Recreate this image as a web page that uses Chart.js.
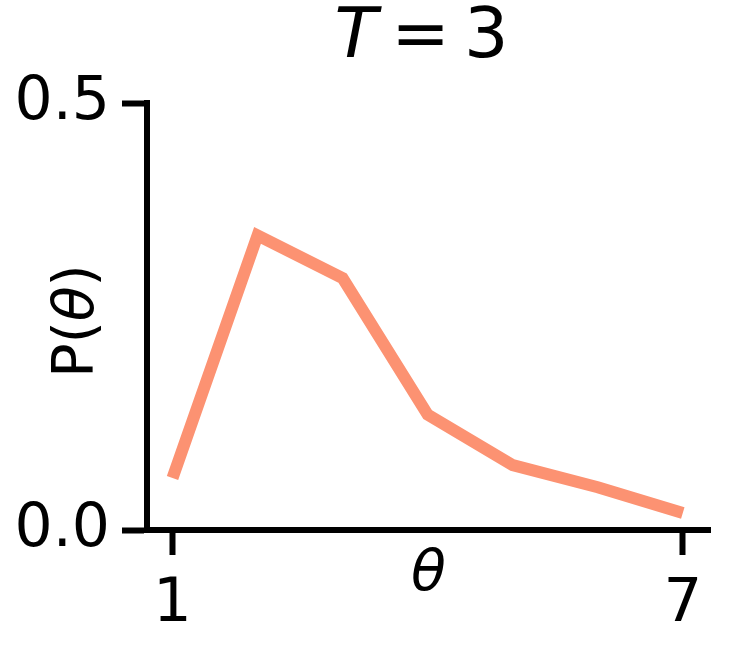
<!DOCTYPE html>
<html>
<head>
<meta charset="utf-8">
<script src="https://cdn.jsdelivr.net/npm/chart.js@4"></script>
<style>
  body { margin: 0; background: #fff; }
  #wrap { width: 746px; height: 649px; }
</style>
</head>
<body>
<div id="wrap"><canvas id="myChart"></canvas></div>
<script>
// data
var thetas = [1, 2, 3, 4, 5, 6, 7];
var probs = [0.061, 0.345, 0.295, 0.135, 0.076, 0.050, 0.020];
var xTicks = [1, 7];
var yTicks = [0.0, 0.5];
var titleParts = ["T", "=", "3"];
var yLabelParts = ["P(", "θ", ")"];

var font = "'DejaVu Sans', sans-serif";

// draws pieces of text side by side, each with its own style
function drawParts(c, parts, styles, gap) {
  var widths = parts.map((p, i) => {
    c.font = styles[i] + font;
    return c.measureText(p).width;
  });
  var total = widths.reduce((a, b) => a + b, 0) + gap * (parts.length - 1);
  var x = -total / 2;
  parts.forEach((p, i) => {
    c.font = styles[i] + font;
    c.fillText(p, x, 0);
    x += widths[i] + gap;
  });
}

// title and y label with italic letters, like matplotlib mathtext
const mathTextPlugin = {
  id: "mathText",
  afterDraw(chart) {
    const c = chart.ctx;
    const area = chart.chartArea;
    c.save();
    c.fillStyle = "#000";
    c.textBaseline = "alphabetic";
    c.translate((area.left + area.right) / 2 - 7, 57);
    drawParts(c, titleParts, ["italic 70px ", "70px ", "70px "], 14);
    c.restore();

    c.save();
    c.fillStyle = "#000";
    c.textBaseline = "middle";
    c.translate(78, 321);
    c.rotate(-Math.PI / 2);
    drawParts(c, yLabelParts, ["57px ", "italic 57px ", "57px "], 0);
    c.restore();
  }
};

const ctx = document.getElementById("myChart");

new Chart(ctx, {
  type: "line",
  data: {
    datasets: [
      {
        data: thetas.map((t, i) => ({ x: t, y: probs[i] })),
        borderColor: "#fc9272",
        borderWidth: 12,
        pointRadius: 0,
        tension: 0,
        fill: false,
        clip: false,
      },
    ],
  },
  options: {
    responsive: true,
    maintainAspectRatio: false,
    animation: false,
    layout: { padding: { top: 103, right: 36, left: 0, bottom: 0 } },
    plugins: {
      legend: { display: false },
      tooltip: { enabled: false },
    },
    scales: {
      x: {
        type: "linear",
        min: 0.7,
        max: 7.32,
        afterBuildTicks: (scale) => {
          scale.ticks = xTicks.map((v) => ({ value: v }));
        },
        afterFit: (scale) => {
          scale.height = 119;
        },
        border: { display: true, color: "#000", width: 6 },
        grid: {
          display: true,
          drawOnChartArea: false,
          drawTicks: true,
          tickLength: 25,
          tickWidth: 6,
          tickColor: "#000",
        },
        ticks: {
          color: "#000",
          font: { family: font, size: 61 },
          padding: 14,
          maxRotation: 0,
          autoSkip: false,
          callback: (v) => String(v),
        },
        title: {
          display: true,
          text: "θ",
          color: "#000",
          font: { family: font, size: 57, style: "italic" },
          padding: { top: 0, bottom: 40 },
        },
      },
      y: {
        min: 0,
        max: 0.5,
        afterBuildTicks: (scale) => {
          scale.ticks = yTicks.map((v) => ({ value: v }));
        },
        afterFit: (scale) => {
          scale.width = 147;
        },
        border: { display: true, color: "#000", width: 6 },
        grid: {
          display: true,
          drawOnChartArea: false,
          drawTicks: true,
          tickLength: 25,
          tickWidth: 6,
          tickColor: "#000",
        },
        ticks: {
          color: "#000",
          font: { family: font, size: 60 },
          padding: 12,
          callback: (v) => v.toFixed(1),
        },
        title: { display: false },
      },
    },
  },
  plugins: [mathTextPlugin],
});
</script>
</body>
</html>
